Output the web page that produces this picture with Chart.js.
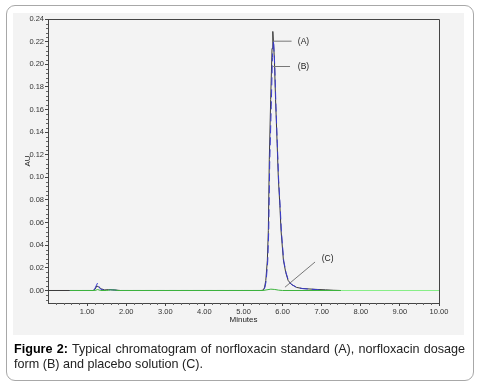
<!DOCTYPE html>
<html><head><meta charset="utf-8">
<script src="https://cdn.jsdelivr.net/npm/chart.js@4.4.1/dist/chart.umd.min.js"></script>
<style>
html,body{margin:0;padding:0;background:#fff;width:481px;height:386px;overflow:hidden;}
#frame{position:absolute;left:6px;top:5px;width:468px;height:376px;border:1.5px solid #a8a8a8;border-radius:9px;box-sizing:border-box;}
#panel{position:absolute;left:13px;top:13px;width:451px;height:322px;background:#f3f3f3;}
#c{position:absolute;left:0;top:0;}
#cap{position:absolute;left:14px;top:342px;width:451px;font:12.6px/15px "Liberation Sans",Arial,sans-serif;color:#222;text-align:justify;}
#cap b{color:#000;}
</style></head>
<body>
<div id="frame"></div>
<div id="panel"></div>
<canvas id="c" width="481" height="386"></canvas>
<div id="cap"><b>Figure 2:</b> Typical chromatogram of norfloxacin standard (A), norfloxacin dosage form (B) and placebo solution (C).</div>
<script>
// ---- data (minutes, AU) ----
const timeA=[0,0.56,1.15,1.2,1.25,1.3,1.36,1.45,1.55,1.65,1.75,1.85,3.0,5.0,5.45,5.51,5.54,5.57,5.61,5.635,5.66,5.695,5.73,5.75,5.79,5.82,5.86,5.89,5.93,5.96,6.02,6.08,6.14,6.22,6.36,6.5,6.7,6.9,7.1,7.3,7.47];
const absA =[0,0,0,0.001,0.004,0.003,0.0015,0.0005,0.0008,0.0006,0.0003,0,0,0,0,0.0005,0.003,0.0089,0.0267,0.053,0.116,0.169,0.214,0.229,0.205,0.169,0.13,0.1,0.075,0.053,0.027,0.016,0.009,0.0055,0.0027,0.0018,0.0013,0.0009,0.0006,0.0002,0];
const timeB=[0.56,1.15,1.19,1.23,1.27,1.31,1.35,1.45,1.6,1.7,1.8,5.45,5.52,5.55,5.58,5.62,5.645,5.67,5.71,5.74,5.77,5.8,5.83,5.87,5.9,5.94,5.97,6.03,6.09,6.15,6.23,6.37,6.5,6.7,6.9,7.1];
const absB =[0,0,0.001,0.004,0.0068,0.003,0.001,0,0.0007,0.0004,0,0,0.0005,0.003,0.0085,0.026,0.052,0.112,0.163,0.206,0.221,0.198,0.163,0.125,0.097,0.073,0.052,0.026,0.0155,0.0088,0.0053,0.0026,0.0017,0.0012,0.0007,0];
const timeC=[0.56,1.2,1.27,1.35,1.5,1.6,1.7,1.8,5.5,5.6,5.7,5.8,5.9,6.0,7.5,10];
const absC =[0,0,0.0008,0,0,0.0006,0.0004,0,0,0.0006,0.0012,0.0009,0.0003,0,0,0];
const yTicks=[0,0.02,0.04,0.06,0.08,0.10,0.12,0.14,0.16,0.18,0.20,0.22,0.24];
const xTicks=[1,2,3,4,5,6,7,8,9,10];
const annLabels=['(A)','(B)','(C)'];
const annFrom=[[5.75,0.2204],[5.76,0.198],[6.06,0.0029]];
const annTo=[[6.23,0.2204],[6.19,0.198],[6.83,0.0252]];
const annText=[[6.39,0.2204],[6.39,0.198],[7.0,0.0284]];

const pts=(t,v)=>t.map((x,i)=>({x:x,y:v[i]}));
const FONT='"Liberation Sans", Arial, sans-serif';

const deco={id:'deco',
  afterDatasetsDraw(chart){
    const {ctx,chartArea:a,scales:{x,y}}=chart;
    ctx.save();
    ctx.strokeStyle='#444';ctx.lineWidth=1;
    ctx.beginPath();
    ctx.moveTo(Math.round(a.left),Math.round(a.top)+0.5);
    ctx.lineTo(Math.round(a.right)+0.5,Math.round(a.top)+0.5);
    ctx.lineTo(Math.round(a.right)+0.5,Math.round(a.bottom));
    ctx.stroke();
    // minor ticks
    ctx.strokeStyle='#666';
    ctx.beginPath();
    for(let k=-2;k<=60;k++){
      if(k%5===0) continue;
      const py=Math.round(y.getPixelForValue(k*0.004))+0.5;
      if(py<a.top||py>a.bottom) continue;
      ctx.moveTo(a.left-2,py);ctx.lineTo(a.left,py);
    }
    for(let k=1;k<50;k++){
      if(k%5===0) continue;
      const px=Math.round(x.getPixelForValue(k*0.2))+0.5;
      ctx.moveTo(px,a.bottom);ctx.lineTo(px,a.bottom+2);
    }
    ctx.stroke();
    // annotations
    ctx.strokeStyle='#777';ctx.fillStyle='#222';
    ctx.font='8.5px '+FONT;ctx.textBaseline='middle';ctx.textAlign='left';
    annLabels.forEach((lab,i)=>{
      ctx.beginPath();
      ctx.moveTo(x.getPixelForValue(annFrom[i][0]),y.getPixelForValue(annFrom[i][1]));
      ctx.lineTo(x.getPixelForValue(annTo[i][0]),y.getPixelForValue(annTo[i][1]));
      ctx.stroke();
      ctx.fillText(lab,x.getPixelForValue(annText[i][0]),y.getPixelForValue(annText[i][1]));
    });
    ctx.restore();
  }
};

new Chart(document.getElementById('c'),{
  type:'line',
  data:{datasets:[
    {label:'C',data:pts(timeC,absC),borderColor:'#3cb43c',borderWidth:1,pointRadius:0,tension:0,order:1,
      segment:{borderColor:c=>c.p0.parsed.x>=7.5?'#86ee86':'#3cb43c'}},
    {label:'B',data:pts(timeB,absB),borderColor:'#3a3ad0',borderWidth:1,borderDash:[8,4],pointRadius:0,tension:0,order:2},
    {label:'A',data:pts(timeA,absA),borderColor:'#3a3a3a',borderWidth:1,pointRadius:0,tension:0,order:3}
  ]},
  plugins:[deco],
  options:{
    responsive:false,animation:false,devicePixelRatio:1,
    layout:{padding:{left:0,top:19,right:42,bottom:53}},
    plugins:{legend:{display:false},tooltip:{enabled:false}},
    scales:{
      x:{type:'linear',min:0,max:10,
        afterBuildTicks:s=>{s.ticks=xTicks.map(v=>({value:v}));},
        afterFit:s=>{s.height=30;},
        ticks:{autoSkip:false,maxRotation:0,padding:1,color:'#333',font:{size:7.5,family:FONT},callback:v=>Number(v).toFixed(2)},
        grid:{drawOnChartArea:false,drawTicks:true,tickLength:3,tickColor:'#444'},
        border:{display:true,color:'#444'},
        title:{display:true,text:'Minutes',color:'#222',font:{size:8,family:FONT},padding:{top:0,bottom:8.2}}
      },
      y:{type:'linear',min:-0.01105,max:0.24,
        afterBuildTicks:s=>{s.ticks=yTicks.map(v=>({value:v}));},
        afterFit:s=>{s.width=48;},
        ticks:{padding:1,color:'#333',font:{size:7.5,family:FONT},callback:v=>Number(v).toFixed(2)},
        grid:{drawOnChartArea:false,drawTicks:true,tickLength:3,tickColor:'#444'},
        border:{display:true,color:'#444'},
        title:{display:true,text:'AU',color:'#222',font:{size:8,family:FONT},padding:{top:22.5,bottom:0}}
      }
    }
  }
});
</script>
</body></html>
